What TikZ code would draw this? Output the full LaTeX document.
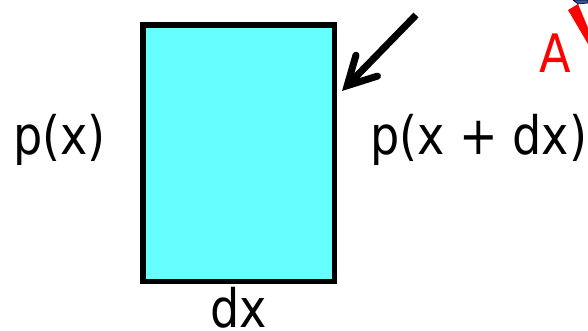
\documentclass[tikz,border=0pt]{standalone}
\usepackage{fontspec}
\newfontfamily\diagfont[FakeStretch=0.87]{DejaVu Sans}
\usepackage{tikz}
\usetikzlibrary{
  arrows.meta,
  positioning
}
\definecolor{elemcyan}{HTML}{66FFFF}
\definecolor{markred}{HTML}{FF0000}
\definecolor{markblue}{HTML}{3355AA}
\tikzstyle{elembox} = [
  rectangle, draw=black, line width=5.5pt, fill=elemcyan,
  minimum width=191.5pt, minimum height=256.5pt, inner sep=0pt
]
\tikzstyle{labeltext} = [
  inner sep=0pt, font=\diagfont\fontsize{53}{60}\selectfont
]
\tikzstyle{arrowstyle} = [-{Straight Barb[length=28pt, width=30pt, line cap=round]}, line width=7pt]

\begin{document}
\begin{tikzpicture}[x=1pt, y=-1pt]
\useasboundingbox (0,0) rectangle (588,330);

% --- Nodes ---
\node[elembox] (elem) at (238.5,153) {};
\node[labeltext, anchor=base west] (px) at (13,154) {p(x)};
\node[labeltext, anchor=base west] (pxdx) at (370,154) {p(x + dx)};
\node[labeltext, below=3.5pt of elem] (dx) {dx};
\node[labeltext, text=markred, anchor=base west] (markA) at (539,72) {A};

% --- Arrow ---
\coordinate (tail) at (416,15);
\coordinate (tip) at (342,91);
\draw[arrowstyle] (tail) -- (tip);

% --- cut-off marks at the corner ---
\fill[markred] (568,10) -- (578,4) -- (588,28) -- (588,44) -- cycle;
\filldraw[fill=markblue, draw=black, line width=0.6pt] (573,0) -- (588,0) -- (588,3) -- (578,4) -- cycle;

\end{tikzpicture}
\end{document}
